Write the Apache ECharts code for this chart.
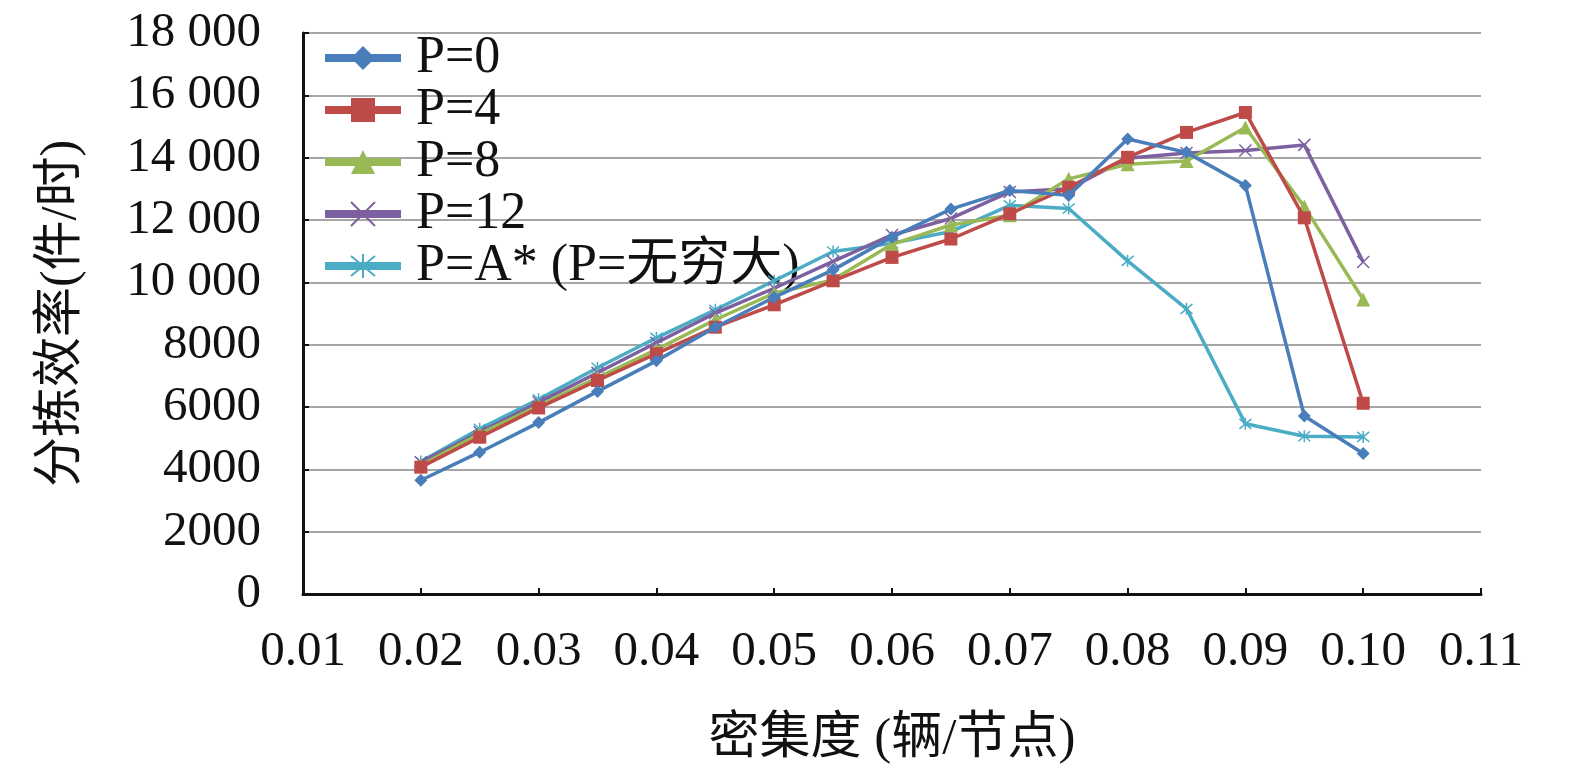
<!DOCTYPE html>
<html>
<head>
<meta charset="utf-8">
<title>分拣效率</title>
<script src="https://cdn.jsdelivr.net/npm/echarts@6/dist/echarts.min.js"></script>
<style>
  html, body { margin: 0; padding: 0; background: #fff; }
  #chart { width: 1575px; height: 778px; }
</style>
</head>
<body>
<div id="chart"></div>
<script>
// 密集度 (x) 与各策略下的分拣效率 (y)
const density = [0.02, 0.025, 0.03, 0.035, 0.04, 0.045, 0.05, 0.055, 0.06,
                 0.065, 0.07, 0.075, 0.08, 0.085, 0.09, 0.095, 0.10];

const p0  = [3650, 4550, 5500, 6500, 7480, 8560, 9520, 10400, 11450, 12350, 12950, 12790, 14600, 14170, 13110, 5710, 4510];
const p4  = [4070, 5030, 5970, 6850, 7710, 8560, 9280, 10050, 10800, 11390, 12200, 13050, 14010, 14810, 15450, 12070, 6120];
const p8  = [4130, 5140, 6040, 6940, 7840, 8800, 9650, 10080, 11220, 11840, 12150, 13320, 13790, 13890, 14970, 12430, 9450];
const p12 = [4230, 5190, 6150, 7100, 8060, 9010, 9810, 10670, 11520, 12050, 12900, 13000, 13980, 14150, 14230, 14410, 10650];
const pA  = [4250, 5300, 6250, 7260, 8220, 9120, 10050, 10990, 11250, 11630, 12470, 12370, 10690, 9150, 5460, 5060, 5040];

const names  = ["P=0", "P=4", "P=8", "P=12", "P=A* (P=无穷大)"];
const colors = ["#4A7EBB", "#BE4B48", "#98B954", "#7D60A0", "#4AACC5"];

const yTicks = [0, 2000, 4000, 6000, 8000, 10000, 12000, 14000, 16000, 18000];

const FONT = '"Liberation Serif", "Times New Roman", "Noto Sans CJK SC", serif';

// 两种线形标记：叉号与星号
const crossPath = "path://M0,0L10,10M10,0L0,10";
const starPath = "path://M0,0L10,10M10,0L0,10M5,-1L5,11";

const seriesDefs = [
  { data: p0,  symbol: "diamond",  size: 13 },
  { data: p4,  symbol: "rect",     size: 13 },
  { data: p8,  symbol: "triangle", size: 14 },
  { data: p12, symbol: crossPath,  size: 12 },
  { data: pA,  symbol: starPath,   size: 12 }
];

function toPairs(arr) {
  return density.map((x, i) => [x, arr[i]]);
}

const chart = echarts.init(document.getElementById("chart"), null, { renderer: "canvas" });

const series = seriesDefs.map((s, i) => {
  const stroked = s.symbol.indexOf("path://") === 0;
  return {
    name: names[i],
    type: "line",
    data: toPairs(s.data),
    symbol: s.symbol,
    symbolSize: s.size,
    showAllSymbol: true,
    lineStyle: { color: colors[i], width: 3.5 },
    itemStyle: stroked
      ? { color: colors[i], borderColor: colors[i], borderWidth: 1.5 }
      : { color: colors[i] },
    z: 10 - i,
    animation: false
  };
});

const option = {
  backgroundColor: "#fff",
  animation: false,
  grid: { left: 303, right: 94, top: 33, bottom: 184 },
  legend: {
    orient: "vertical",
    left: 316,
    top: 27,
    itemWidth: 76,
    itemHeight: 30,
    itemGap: 0,
    lineStyle: { width: 8 },
    textStyle: { fontFamily: FONT, fontSize: 52, lineHeight: 52, color: "#111", padding: [0, 0, 0, 10] },
    data: names.map((n) => ({ name: n, lineStyle: { width: 8 } }))
  },
  xAxis: {
    type: "value",
    min: 0.01,
    max: 0.11,
    interval: 0.01,
    name: "密集度 (辆/节点)",
    nameLocation: "middle",
    nameGap: 120,
    nameTextStyle: { fontFamily: FONT, fontSize: 51, color: "#111" },
    axisLine: { lineStyle: { color: "#111", width: 3 } },
    axisTick: { inside: true, length: 6, lineStyle: { color: "#111", width: 2 } },
    axisLabel: {
      fontFamily: FONT, fontSize: 49, color: "#111", margin: 34,
      formatter: (v) => v.toFixed(2)
    },
    splitLine: { show: false }
  },
  yAxis: {
    type: "value",
    min: 0,
    max: yTicks[yTicks.length - 1],
    interval: yTicks[1] - yTicks[0],
    name: "分拣效率(件/时)",
    nameLocation: "middle",
    nameGap: 216,
    nameTextStyle: { fontFamily: FONT, fontSize: 50, color: "#111" },
    axisLine: { show: true, lineStyle: { color: "#111", width: 3 } },
    axisTick: { show: true, inside: true, length: 6, lineStyle: { color: "#111", width: 2 } },
    axisLabel: {
      fontFamily: FONT, fontSize: 49, color: "#111", margin: 42,
      formatter: (v) => v >= 10000
        ? Math.floor(v / 1000) + " " + String(v % 1000).padStart(3, "0")
        : String(v)
    },
    splitLine: { lineStyle: { color: "#A6A6A6", width: 2 } }
  },
  series: series
};

chart.setOption(option);
window.addEventListener("resize", () => chart.resize());
</script>
</body>
</html>
